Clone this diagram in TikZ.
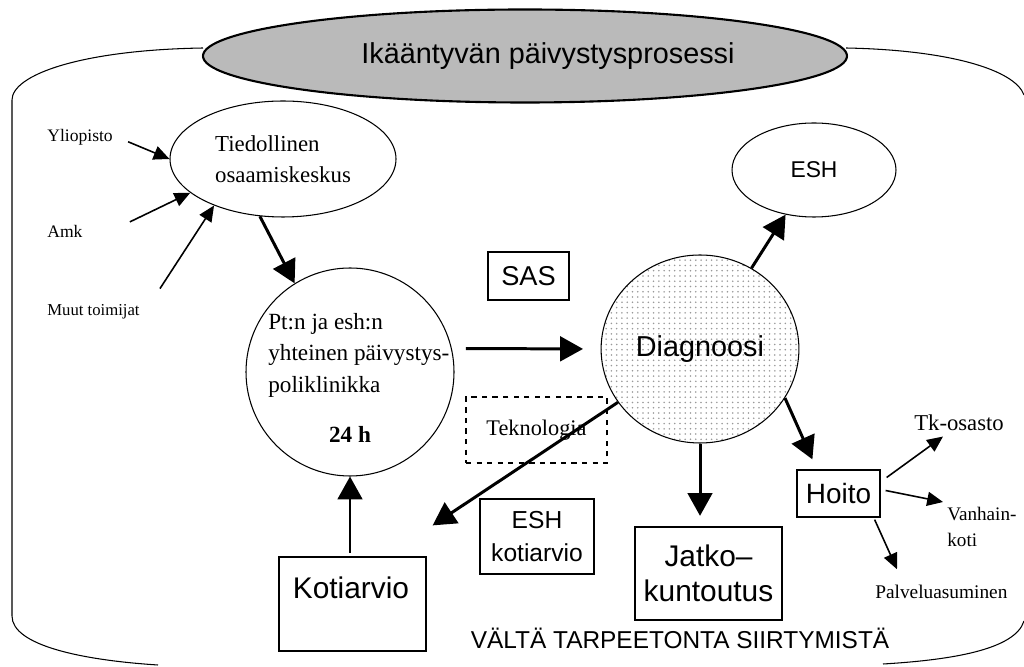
\documentclass[tikz,border=0pt]{standalone}
\usepackage{fontspec}
\setmainfont{Liberation Serif}
\setsansfont{Liberation Sans}
\usetikzlibrary{shapes,arrows.meta,positioning,calc,patterns}

\newdimen\pxu
\pxu=0.02cm

\tikzset{
    bigarr/.style={line width=1.7pt, -{Triangle[length=13pt,width=14pt]}},
    thinarr/.style={line width=0.9pt, -{Triangle[length=9pt,width=8pt]}},
    box/.style={draw, line width=0.7pt},
    lbl/.style={inner sep=0pt, font=\fontsize{10}{12}\selectfont},
}

\begin{document}
\begin{tikzpicture}[x=0.02cm, y=0.02cm]
    \useasboundingbox (0,0) rectangle (1024,666);

    % outer frame
    \draw[line width=0.6pt] (203,618) .. controls (80,616) and (12,591) .. (12,566) -- (12,50) .. controls (12,21) and (80,6) .. (158,1);
    \draw[line width=0.6pt] (846,618) .. controls (950,616) and (1015,596) .. (1024,571);
    \draw[line width=0.6pt] (1024,45) .. controls (1015,16) and (950,6) .. (883,2);

    % title
    \node[ellipse, draw, line width=1.2pt, fill=black!27, minimum width=644\pxu, minimum height=93\pxu] (title) at (525,610) {};
    \node[anchor=base, font=\sffamily\fontsize{16.4}{20}\selectfont] (titlelbl) at (548,602) {Ikääntyvän päivystysprosessi};

    % knowledge centre and its inputs
    \node[ellipse, draw, line width=0.6pt, minimum width=226\pxu, minimum height=116\pxu, align=left, font=\fontsize{13}{17.6}\selectfont] (tied) at (283,507) {Tiedollinen\\osaamiskeskus};
    \node[lbl, anchor=base west] (ylio) at (47,524) {Yliopisto};
    \node[lbl, anchor=base west] (amk) at (47,428) {Amk};
    \node[lbl, anchor=base west, font=\fontsize{9.5}{11}\selectfont] (muut) at (47,350) {Muut toimijat};

    \draw[thinarr] ([shift={(15,-4)}]ylio.east) -- (tied.west);
    \draw[thinarr] ([shift={(47,10)}]amk.east) -- (tied.200);
    \draw[thinarr] ([shift={(20,16)}]muut.north east) -- (tied.214);

    % emergency clinic
    \node[circle, draw, line width=0.6pt, minimum size=208\pxu] (pt) at (350,294) {};
    \node[anchor=north west, inner sep=0pt, align=left, font=\fontsize{13.2}{17.9}\selectfont] (ptlbl) at (268,353) {Pt:n ja esh:n\\yhteinen päivystys-\\poliklinikka};
    \node[anchor=base, font=\bfseries\fontsize{13.2}{16}\selectfont] (pth) at (350,223) {24 h};

    \node[box, minimum width=81\pxu, minimum height=48\pxu, font=\sffamily\fontsize{15.5}{18}\selectfont] (sas) at (528.5,390) {SAS};
    \node[draw, dashed, line width=0.8pt, minimum width=141\pxu, minimum height=66\pxu, font=\fontsize{12.7}{15}\selectfont] (tekno) at (536.5,236) {Teknologia};

    % diagnosis and the ways out
    \node[ellipse, draw, line width=0.6pt, pattern=dots, pattern color=black!40, minimum width=178\pxu, minimum height=188\pxu, font=\sffamily\fontsize{16.4}{20}\selectfont] (diag) at (700,317) {Diagnoosi};
    \node[ellipse, draw, line width=0.6pt, minimum width=164\pxu, minimum height=94\pxu, font=\sffamily\fontsize{13}{16}\selectfont] (esh) at (814,496) {ESH};

    \node[box, minimum width=114\pxu, minimum height=75\pxu, align=center, font=\sffamily\fontsize{14}{19.3}\selectfont] (eshk) at (537,129.5) {ESH\\kotiarvio};
    \node[box, minimum width=147\pxu, minimum height=94\pxu] (koti) at (352.5,62) {};
    \node[anchor=base, font=\sffamily\fontsize{17}{20}\selectfont] (kotilbl) at (351,68) {Kotiarvio};
    \node[box, minimum width=147\pxu, minimum height=93\pxu, align=center, font=\sffamily\fontsize{17}{19.8}\selectfont] (jatko) at (708.5,92.5) {Jatko–\\kuntoutus};
    \node[box, minimum width=83\pxu, minimum height=47\pxu, font=\sffamily\fontsize{15.9}{19}\selectfont] (hoito) at (838.5,172.5) {Hoito};

    \node[lbl, anchor=base west, font=\fontsize{12.9}{15}\selectfont] (tk) at (914,235) {Tk-osasto};
    \node[lbl, anchor=north west, align=left, font=\fontsize{10.9}{14.7}\selectfont] (vanh) at (947,159) {Vanhain-\\koti};
    \node[lbl, anchor=base west, font=\fontsize{11}{13}\selectfont] (palv) at (875,68) {Palveluasuminen};

    \node[anchor=base, font=\sffamily\fontsize{13.9}{16}\selectfont] (valta) at (680,18) {VÄLTÄ TARPEETONTA SIIRTYMISTÄ};

    % main flow
    \draw[bigarr] (tied.-112) -- (pt.122);
    \draw[bigarr, shorten <=8pt, shorten >=10pt] (pt.13) -- (diag.west);
    \draw[bigarr] (diag) -- (esh);
    \draw[bigarr] (diag.213) -- ([shift={(6,31)}]koti.north east);
    \draw[bigarr, shorten <=2pt] (pt.south |- koti.north) -- (pt.south);
    \draw[bigarr, shorten >=6pt] (diag.south) -- (diag.south |- jatko.north);
    \draw[bigarr] (diag.-30) -- ([shift={(16,10)}]hoito.north west);

    % after treatment
    \draw[thinarr] ([shift={(6,16)}]hoito.east) -- ([shift={(29,-5)}]tk.south west);
    \draw[thinarr] ([shift={(5,3)}]hoito.east) -- ([shift={(-4,5)}]vanh.north west);
    \draw[thinarr] ([shift={(-6,-2)}]hoito.south east) -- ([shift={(22,15)}]palv.north west);
\end{tikzpicture}
\end{document}
